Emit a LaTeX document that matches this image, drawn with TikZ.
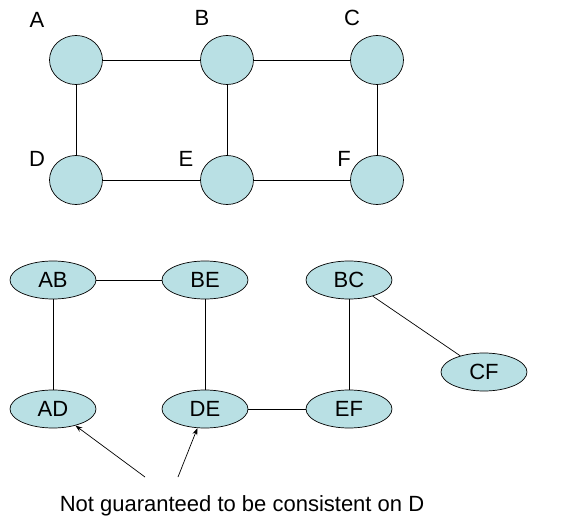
\documentclass[tikz,border=0pt]{standalone}
\usepackage{fontspec}
\setmainfont{Liberation Sans}
\usetikzlibrary{shapes.geometric,arrows.meta}
\definecolor{varfill}{RGB}{185,224,228}
\begin{document}
\begin{tikzpicture}[x=1pt,y=-1pt,line width=0.7pt,
        var/.style={ellipse,draw,fill=varfill,minimum width=53pt,minimum height=49pt,inner sep=0pt},
        clq/.style={ellipse,draw,fill=varfill,minimum width=86pt,minimum height=38pt,inner sep=0pt,font=\fontsize{22}{26}\selectfont},
        lbl/.style={font=\fontsize{22}{26}\selectfont}]
        \useasboundingbox (0,0) rectangle (563,525);
        % constraint graph
        \node[var] (A) at (76,60) {};
        \node[var] (B) at (227,60) {};
        \node[var] (C) at (377,60) {};
        \node[var] (D) at (76,180) {};
        \node[var] (E) at (227,180) {};
        \node[var] (F) at (377,180) {};
        \node[lbl] (la) at (37,20) {A};
        \node[lbl] (lb) at (202,18) {B};
        \node[lbl] (lc) at (352,18) {C};
        \node[lbl] (ld) at (37,159) {D};
        \node[lbl] (le) at (186,159) {E};
        \node[lbl] (lf) at (344,159) {F};
        \draw (A) -- (B);
        \draw (B) -- (C);
        \draw (D) -- (E);
        \draw (E) -- (F);
        \draw (A) -- (D);
        \draw (B) -- (E);
        \draw (C) -- (F);
        % clique graph
        \node[clq] (AB) at (53,280) {AB};
        \node[clq] (BE) at (205,280) {BE};
        \node[clq] (BC) at (349,280) {BC};
        \node[clq] (CF) at (484,372) {CF};
        \node[clq] (AD) at (53,409) {AD};
        \node[clq] (DE) at (205,409) {DE};
        \node[clq] (EF) at (349,409) {EF};
        \draw (AB) -- (BE);
        \draw (AB) -- (AD);
        \draw (BE) -- (DE);
        \draw (BC) -- (EF);
        \draw (DE) -- (EF);
        \draw (BC) -- (CF);
        % note
        \node[lbl] (note) at (242,506) {Not guaranteed to be consistent on D};
        \coordinate (s1) at (145,477);
        \coordinate (s2) at (178,477);
        \draw[-{Stealth[length=7pt,width=5pt]}] (s1) -- (AD);
        \draw[-{Stealth[length=7pt,width=5pt]}] (s2) -- (DE);
\end{tikzpicture}
\end{document}
